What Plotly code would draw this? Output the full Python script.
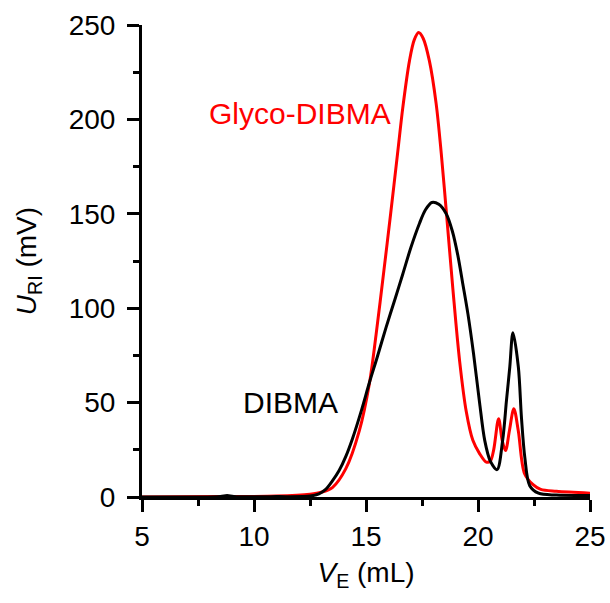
import plotly.graph_objects as go

# DIBMA (black)
dibma_x = [5, 7, 8.5, 8.8, 9.1, 11, 12.5, 12.9, 13.2, 13.5, 13.8, 14.1, 14.4, 14.8, 15.15, 15.5,
           15.9, 16.3, 16.64, 17.0, 17.39, 17.65, 17.94, 18.25, 18.58, 18.85, 19.1, 19.32, 19.55,
           19.8, 20.07, 20.3, 20.55, 20.85, 21.1, 21.27, 21.42, 21.56, 21.8, 21.94, 22.09, 22.31,
           22.7, 23.5, 25]
dibma_y = [0, 0, 0.3, 0.8, 0.3, 0.2, 0.5, 1.7, 4, 8.5, 14, 21.5, 31, 46, 60.5, 74,
           90, 105, 118, 132, 145, 152, 156, 155, 150, 141, 128, 113, 97,
           76, 50, 30, 19, 14.5, 30, 51, 69, 87, 69, 42, 21, 6,
           2, 1, 0.8]

# Glyco-DIBMA (red)
glyco_x = [5, 8.5, 11, 12.5, 13.0, 13.5, 14.1, 14.7, 15.15, 15.45, 15.8, 16.1, 16.41, 16.64, 16.94,
           17.15, 17.35, 17.55, 17.83, 18.13, 18.36, 18.58, 18.88, 19.18, 19.48, 19.77, 20.07, 20.37,
           20.55, 20.7, 20.92, 21.08, 21.23, 21.4, 21.6, 21.8, 22.08, 22.46, 22.8, 23.5, 25]
glyco_y = [0, 0.2, 0.5, 1.5, 2.5, 5, 15, 35, 60, 86, 120, 150, 182, 206, 231,
           242, 246, 243, 231, 208.5, 182, 152, 110, 72, 45, 30, 23, 18.5,
           19, 25, 41.5, 30, 24.6, 35, 46.8, 35, 12.3, 6.5, 4, 3, 2]

x_ticks = [5, 10, 15, 20, 25]
y_ticks = [0, 50, 100, 150, 200, 250]

FONT = "Liberation Sans, Arial, sans-serif"

fig = go.Figure()
fig.add_trace(go.Scatter(x=glyco_x, y=glyco_y, mode="lines",
                         line=dict(color="#ff0000", width=3, shape="spline", smoothing=0.9),
                         name="Glyco-DIBMA"))
fig.add_trace(go.Scatter(x=dibma_x, y=dibma_y, mode="lines",
                         line=dict(color="#000000", width=3, shape="spline", smoothing=0.9),
                         name="DIBMA"))

fig.add_annotation(x=12.05, y=203, text="Glyco-DIBMA", showarrow=False,
                   font=dict(family=FONT, size=30, color="#ff0000"))
fig.add_annotation(x=11.65, y=50, text="DIBMA", showarrow=False,
                   font=dict(family=FONT, size=30, color="#000000"))

fig.update_layout(
    width=610, height=603,
    margin=dict(l=142, r=20, t=25, b=106),
    paper_bgcolor="white", plot_bgcolor="white",
    showlegend=False,
    font=dict(family=FONT, size=28, color="black"),
)
fig.update_xaxes(
    range=[5, 25], tickvals=x_ticks, ticktext=[str(v) for v in x_ticks],
    automargin=False,
    showgrid=False, zeroline=False,
    showline=True, linecolor="black", linewidth=3,
    ticks="outside", ticklen=12, tickwidth=3, tickcolor="black",
    minor=dict(ticks="outside", ticklen=6, tickwidth=3, tickcolor="black", dtick=2.5, showgrid=False),
    tickfont=dict(family=FONT, size=28),
    title=dict(text="<i>V</i><sub>E</sub> (mL)", font=dict(family=FONT, size=28), standoff=12),
)
fig.update_yaxes(
    range=[0, 250], tickvals=y_ticks, ticktext=[str(v) for v in y_ticks],
    automargin=False,
    showgrid=False, zeroline=False,
    showline=True, linecolor="black", linewidth=3,
    ticks="outside", ticklen=12, tickwidth=3, tickcolor="black",
    ticklabelstandoff=6,
    minor=dict(ticks="outside", ticklen=6, tickwidth=3, tickcolor="black", dtick=25, showgrid=False),
    tickfont=dict(family=FONT, size=28),
    title=dict(text="<i>U</i><sub>RI</sub> (mV)", font=dict(family=FONT, size=28), standoff=24),
)

fig.write_html(
    "out.html",
    config={"displayModeBar": False},
    post_script="document.body.style.margin='0';document.body.style.overflow='hidden';",
)
